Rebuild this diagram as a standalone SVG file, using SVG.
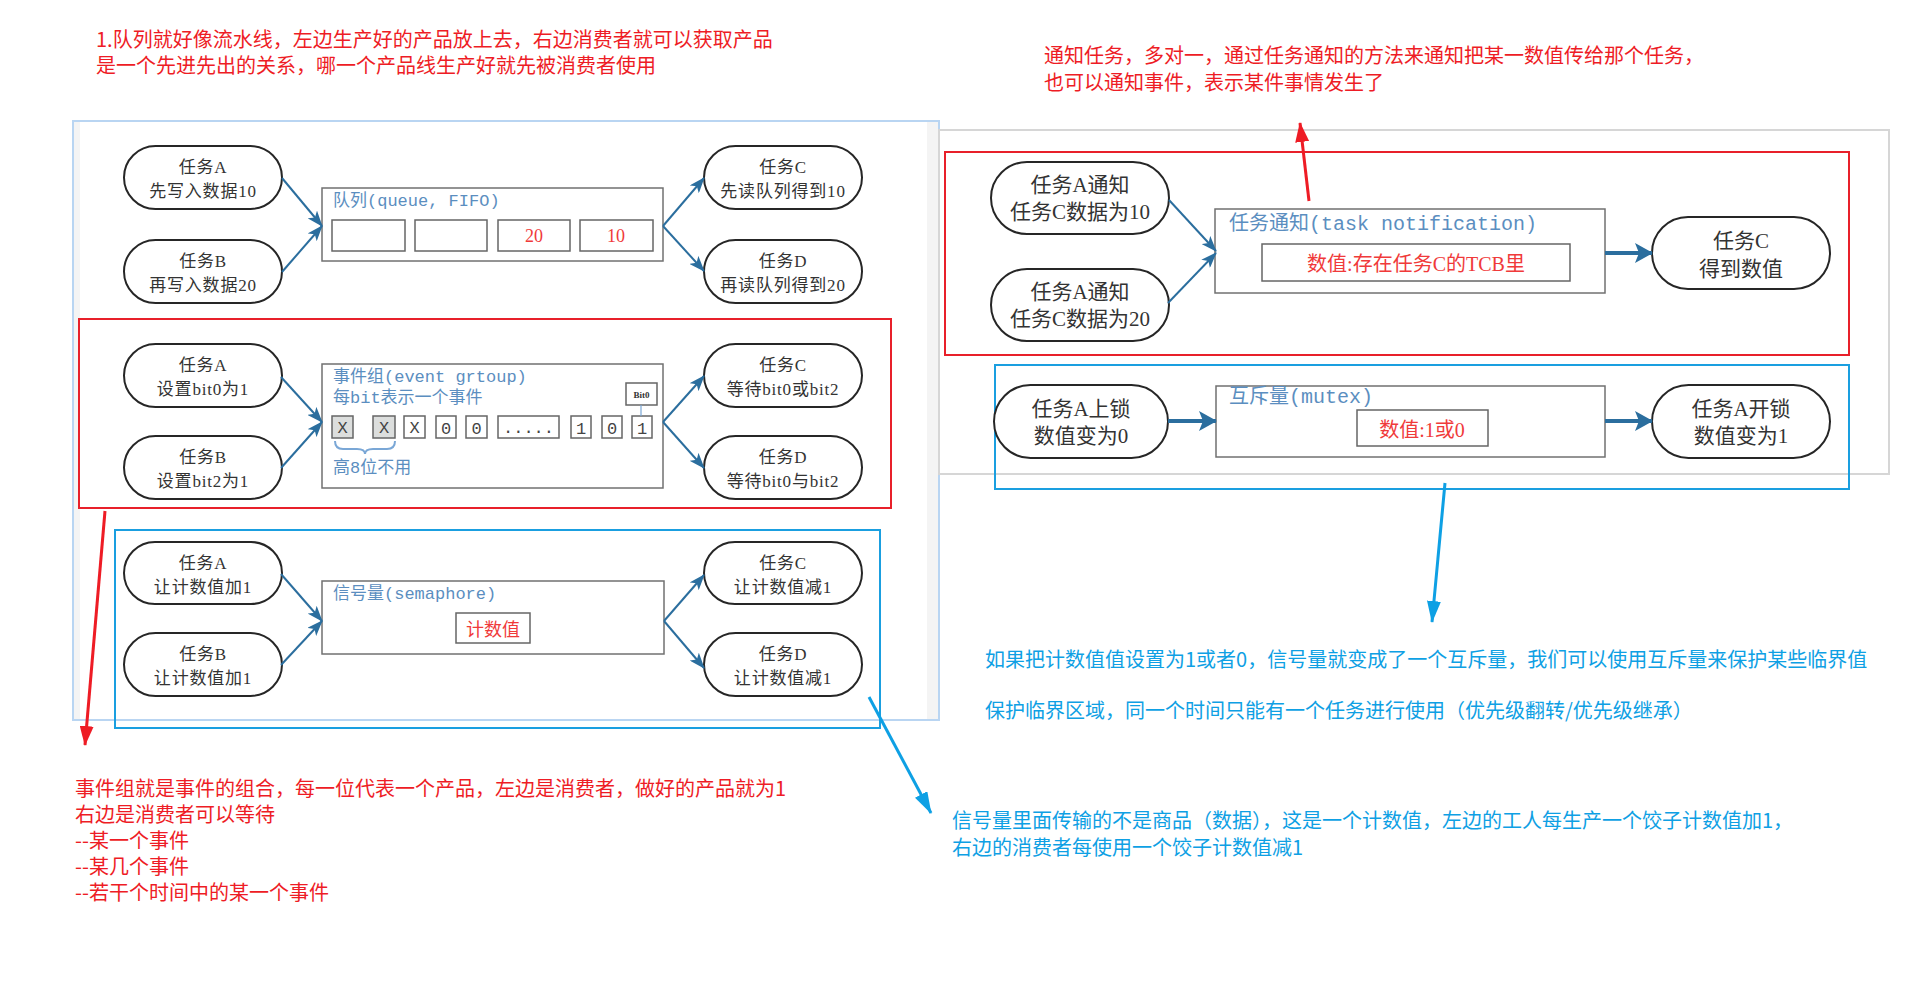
<svg xmlns="http://www.w3.org/2000/svg" width="1920" height="983" viewBox="0 0 1920 983">
<defs>
<style>
.shape{fill:#fff;stroke:#262626;stroke-width:2}
.nt{font-family:'Liberation Serif','Noto Sans CJK SC',serif;font-size:17px;fill:#333;text-anchor:middle;letter-spacing:0.8px}
.nt2{font-size:21px;letter-spacing:0}
.box{fill:#fff;stroke:#707070;stroke-width:1.5}
.bt{font-family:'Liberation Mono','Noto Sans CJK SC',monospace;font-size:17px;fill:#5b8ec0}
.bt2{font-size:20px}
.cell{fill:#fff;stroke:#666;stroke-width:1.5}
.gcell{fill:#dcdedd;stroke:#666;stroke-width:1.5}
.ct{font-family:'Liberation Mono',monospace;font-size:17px;fill:#444;text-anchor:middle}
.rt{font-family:'Liberation Serif','Noto Sans CJK SC',serif;fill:#f03a3a;text-anchor:middle}
.conn{stroke:#2b6e9e;stroke-width:2;fill:none;marker-end:url(#ah)}
.conn2{stroke:#2b6e9e;stroke-width:4;fill:none;marker-end:url(#ah2)}
.ann{font-family:'Noto Sans CJK SC',sans-serif;font-size:20px}
.red{fill:#ee1c25}
.blue{fill:#0ea0e4}
</style>
<marker id="ah" viewBox="0 0 16 12" refX="15" refY="6" markerWidth="16" markerHeight="12" markerUnits="userSpaceOnUse" orient="auto"><path d="M0,0 L16,6 L0,12 L4,6 z" fill="#2b6e9e"/></marker>
<marker id="ah2" viewBox="0 0 18 20" refX="17" refY="10" markerWidth="18" markerHeight="20" markerUnits="userSpaceOnUse" orient="auto"><path d="M0,0 L18,10 L0,20 L4,10 z" fill="#2b6e9e"/></marker>
<marker id="ahr" viewBox="0 0 20 14" refX="19" refY="7" markerWidth="20" markerHeight="14" markerUnits="userSpaceOnUse" orient="auto"><path d="M0,0 L20,7 L0,14 z" fill="#ee1c25"/></marker>
<marker id="ahb" viewBox="0 0 22 14" refX="21" refY="7" markerWidth="22" markerHeight="14" markerUnits="userSpaceOnUse" orient="auto"><path d="M0,0 L22,7 L0,14 z" fill="#0ea0e4"/></marker>
</defs>
<rect width="1920" height="983" fill="#fff"/>

<!-- panels -->
<g id="panel-left">
<rect x="73" y="121" width="866" height="599" fill="#f4f4f4" stroke="#b9d5f2" stroke-width="2"/>
<rect x="80" y="122" width="847" height="597" fill="#fff"/>
</g>
<g id="panel-right">
<rect x="939" y="130" width="950" height="344" fill="#fff" stroke="#d6d6d6" stroke-width="2"/>
</g>

<!-- highlight boxes -->
<g id="hl-boxes" fill="none" stroke-width="2">
<rect x="79" y="319" width="812" height="189" stroke="#e8202a"/>
<rect x="115" y="530" width="765" height="198" stroke="#1a9fe0"/>
<rect x="945" y="152" width="904" height="203" stroke="#e8202a"/>
<rect x="995" y="365" width="854" height="124" stroke="#1a9fe0"/>
</g>

<!-- queue section -->
<g id="q-a"><rect class="shape" x="124" y="146" width="158" height="63" rx="31.5"/><text class="nt" x="203" y="173">任务A<tspan x="203" y="197">先写入数据10</tspan></text></g>
<g id="q-b"><rect class="shape" x="124" y="240" width="158" height="63" rx="31.5"/><text class="nt" x="203" y="267">任务B<tspan x="203" y="291">再写入数据20</tspan></text></g>
<g id="q-c"><rect class="shape" x="704" y="146" width="158" height="63" rx="31.5"/><text class="nt" x="783" y="173">任务C<tspan x="783" y="197">先读队列得到10</tspan></text></g>
<g id="q-d"><rect class="shape" x="704" y="240" width="158" height="63" rx="31.5"/><text class="nt" x="783" y="267">任务D<tspan x="783" y="291">再读队列得到20</tspan></text></g>
<g id="queue">
<rect class="box" x="322" y="188" width="341" height="73"/>
<text class="bt" x="333" y="206">队列(queue, FIFO)</text>
<rect class="cell" x="332" y="220" width="73" height="31"/>
<rect class="cell" x="415" y="220" width="72" height="31"/>
<rect class="cell" x="498" y="220" width="72" height="31"/>
<rect class="cell" x="580" y="220" width="73" height="31"/>
<text class="rt" x="534" y="242" font-size="18">20</text>
<text class="rt" x="616" y="242" font-size="18">10</text>
</g>

<!-- event group section -->
<g id="e-a"><rect class="shape" x="124" y="344" width="158" height="63" rx="31.5"/><text class="nt" x="203" y="371">任务A<tspan x="203" y="395">设置bit0为1</tspan></text></g>
<g id="e-b"><rect class="shape" x="124" y="436" width="158" height="63" rx="31.5"/><text class="nt" x="203" y="463">任务B<tspan x="203" y="487">设置bit2为1</tspan></text></g>
<g id="e-c"><rect class="shape" x="704" y="344" width="158" height="63" rx="31.5"/><text class="nt" x="783" y="371">任务C<tspan x="783" y="395">等待bit0或bit2</tspan></text></g>
<g id="e-d"><rect class="shape" x="704" y="436" width="158" height="63" rx="31.5"/><text class="nt" x="783" y="463">任务D<tspan x="783" y="487">等待bit0与bit2</tspan></text></g>
<g id="eventgroup">
<rect class="box" x="322" y="364" width="341" height="124"/>
<text class="bt" x="333" y="382">事件组(event grtoup)</text>
<text class="bt" x="333" y="403">每bit表示一个事件</text>
<rect class="gcell" x="332" y="416" width="21" height="22"/><text class="ct" x="342.5" y="433" font-size="15">X</text>
<rect class="gcell" x="373" y="416" width="22" height="22"/><text class="ct" x="384" y="433" font-size="15">X</text>
<rect class="cell" x="404" y="416" width="21" height="22"/><text class="ct" x="414.5" y="433" font-size="15">X</text>
<rect class="cell" x="436" y="416" width="20" height="22"/><text class="ct" x="446" y="434">0</text>
<rect class="cell" x="466" y="416" width="21" height="22"/><text class="ct" x="476.5" y="434">0</text>
<rect class="cell" x="498" y="416" width="61" height="22"/><text class="ct" x="528.5" y="433">.....</text>
<rect class="cell" x="571" y="416" width="20" height="22"/><text class="ct" x="581" y="434">1</text>
<rect class="cell" x="602" y="416" width="20" height="22"/><text class="ct" x="612" y="434">0</text>
<rect class="cell" x="632" y="416" width="20" height="22"/><text class="ct" x="642" y="434">1</text>
<rect class="cell" x="626" y="383" width="31" height="22" stroke-width="1"/>
<text x="641.5" y="398" font-family="'Liberation Serif',serif" font-size="9" font-weight="bold" fill="#333" text-anchor="middle">Bit0</text>
<line x1="641" y1="405" x2="641" y2="416" stroke="#7aa7d6" stroke-width="1.2"/>
<path d="M335,441 Q335,449 343,449 L357,449 Q365,449 365,454 Q365,449 373,449 L387,449 Q395,449 395,441" fill="none" stroke="#7aa7d6" stroke-width="2"/>
<text class="bt" x="333" y="473" font-family="'Noto Sans CJK SC',sans-serif">高8位不用</text>
</g>

<!-- semaphore section -->
<g id="s-a"><rect class="shape" x="124" y="542" width="158" height="62" rx="31"/><text class="nt" x="203" y="569">任务A<tspan x="203" y="593">让计数值加1</tspan></text></g>
<g id="s-b"><rect class="shape" x="124" y="633" width="158" height="63" rx="31.5"/><text class="nt" x="203" y="660">任务B<tspan x="203" y="684">让计数值加1</tspan></text></g>
<g id="s-c"><rect class="shape" x="704" y="542" width="158" height="62" rx="31"/><text class="nt" x="783" y="569">任务C<tspan x="783" y="593">让计数值减1</tspan></text></g>
<g id="s-d"><rect class="shape" x="704" y="633" width="158" height="63" rx="31.5"/><text class="nt" x="783" y="660">任务D<tspan x="783" y="684">让计数值减1</tspan></text></g>
<g id="semaphore">
<rect class="box" x="322" y="581" width="342" height="73"/>
<text class="bt" x="333" y="599">信号量(semaphore)</text>
<rect class="cell" x="456" y="613" width="74" height="30"/>
<text class="rt" x="493" y="636" font-size="18">计数值</text>
</g>

<!-- task notification section -->
<g id="n-a1"><rect class="shape" x="991" y="162" width="178" height="72" rx="36"/><text class="nt nt2" x="1080" y="192">任务A通知<tspan x="1080" y="219">任务C数据为10</tspan></text></g>
<g id="n-a2"><rect class="shape" x="991" y="269" width="178" height="72" rx="36"/><text class="nt nt2" x="1080" y="299">任务A通知<tspan x="1080" y="326">任务C数据为20</tspan></text></g>
<g id="n-c"><rect class="shape" x="1652" y="217" width="178" height="72" rx="36"/><text class="nt nt2" x="1741" y="248">任务C<tspan x="1741" y="276">得到数值</tspan></text></g>
<g id="notification">
<rect class="box" x="1215" y="209" width="390" height="84"/>
<text class="bt bt2" x="1229" y="230">任务通知(task notification)</text>
<rect class="cell" x="1262" y="244" width="308" height="37"/>
<text class="rt" x="1416" y="271" font-size="20">数值:存在任务C的TCB里</text>
</g>

<!-- mutex section -->
<g id="m-a"><rect class="shape" x="994" y="385" width="174" height="73" rx="36.5"/><text class="nt nt2" x="1081" y="416">任务A上锁<tspan x="1081" y="443">数值变为0</tspan></text></g>
<g id="m-a2"><rect class="shape" x="1652" y="385" width="178" height="73" rx="36.5"/><text class="nt nt2" x="1741" y="416">任务A开锁<tspan x="1741" y="443">数值变为1</tspan></text></g>
<g id="mutex">
<rect class="box" x="1216" y="386" width="389" height="71"/>
<text class="bt bt2" x="1229" y="403">互斥量(mutex)</text>
<rect class="cell" x="1357" y="410" width="131" height="36"/>
<text class="rt" x="1422" y="437" font-size="20">数值:1或0</text>
</g>

<!-- connectors -->
<g id="connectors">
<path class="conn" d="M282,178 L322,226"/>
<path class="conn" d="M282,272 L322,226"/>
<path class="conn" d="M663,226 L704,178"/>
<path class="conn" d="M663,226 L704,271"/>
<path class="conn" d="M281,377 L322,422"/>
<path class="conn" d="M281,468 L322,422"/>
<path class="conn" d="M663,422 L704,376"/>
<path class="conn" d="M663,422 L704,468"/>
<path class="conn" d="M281,574 L322,621"/>
<path class="conn" d="M281,665 L322,621"/>
<path class="conn" d="M664,621 L704,575"/>
<path class="conn" d="M664,621 L704,668"/>
<path class="conn" d="M1169,200 L1216,251"/>
<path class="conn" d="M1168,303 L1216,253"/>
<path class="conn2" d="M1605,253 L1652,253"/>
<path class="conn2" d="M1168,421 L1216,421"/>
<path class="conn2" d="M1605,421 L1652,421"/>
<path d="M105,511 L85,745" stroke="#ee1c25" stroke-width="3" fill="none" marker-end="url(#ahr)"/>
<path d="M1309,201 L1300,123" stroke="#ee1c25" stroke-width="3" fill="none" marker-end="url(#ahr)"/>
<path d="M869,697 L931,813" stroke="#0ea0e4" stroke-width="3" fill="none" marker-end="url(#ahb)"/>
<path d="M1445,483 L1432,622" stroke="#0ea0e4" stroke-width="3" fill="none" marker-end="url(#ahb)"/>
</g>

<!-- annotations -->
<g id="annotations" class="ann">
<text class="red" x="96" y="47">1.队列就好像流水线，左边生产好的产品放上去，右边消费者就可以获取产品</text>
<text class="red" x="96" y="73">是一个先进先出的关系，哪一个产品线生产好就先被消费者使用</text>
<text class="red" x="1044" y="63">通知任务，多对一，通过任务通知的方法来通知把某一数值传给那个任务，</text>
<text class="red" x="1044" y="90">也可以通知事件，表示某件事情发生了</text>
<text class="red" x="75" y="796">事件组就是事件的组合，每一位代表一个产品，左边是消费者，做好的产品就为1</text>
<text class="red" x="75" y="822">右边是消费者可以等待</text>
<text class="red" x="75" y="848">--某一个事件</text>
<text class="red" x="75" y="874">--某几个事件</text>
<text class="red" x="75" y="900">--若干个时间中的某一个事件</text>
<text class="blue" x="985" y="667">如果把计数值值设置为1或者0，信号量就变成了一个互斥量，我们可以使用互斥量来保护某些临界值</text>
<text class="blue" x="985" y="718">保护临界区域，同一个时间只能有一个任务进行使用（优先级翻转/优先级继承）</text>
<text class="blue" x="952" y="828">信号量里面传输的不是商品（数据），这是一个计数值，左边的工人每生产一个饺子计数值加1，</text>
<text class="blue" x="952" y="855">右边的消费者每使用一个饺子计数值减1</text>
</g>
</svg>
